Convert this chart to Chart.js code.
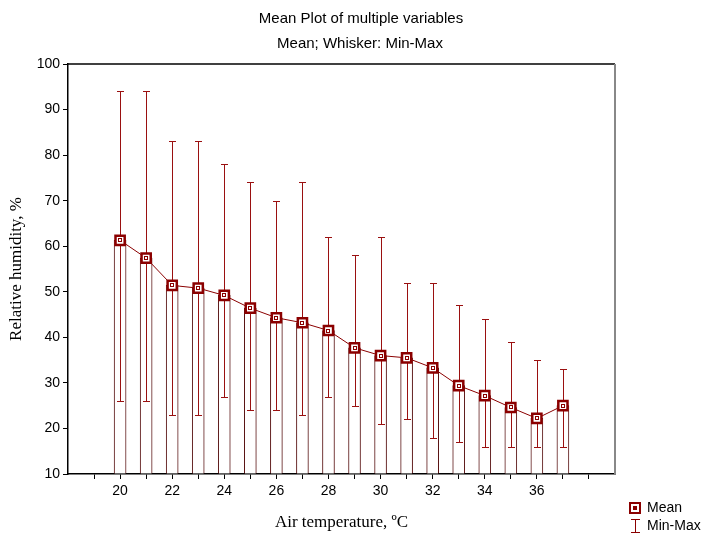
<!DOCTYPE html>
<html>
<head>
<meta charset="utf-8">
<script src="https://cdn.jsdelivr.net/npm/chart.js@4"></script>
<style>
  html, body { margin:0; padding:0; background:#fff; }
  #wrap { width:705px; height:533px; position:relative; }
</style>
</head>
<body>
<div id="wrap"><canvas id="c" width="705" height="533"></canvas></div>
<script>
// air temperature categories (ºC)
const temps = [20,21,22,23,24,25,26,27,28,29,30,31,32,33,34,35,36,37];
// relative humidity, %
const means = [61.3,57.4,51.4,50.8,49.2,46.4,44.3,43.2,41.5,37.7,36.0,35.5,33.3,29.4,27.2,24.6,22.2,25.0];
const maxs  = [94,94,83,83,78,74,70,74,62,58,62,52,52,47,44,39,35,33];
const mins  = [26,26,23,23,27,24,24,23,27,25,21,22,18,17,16,16,16,16];
const xLabels = [20,22,24,26,28,30,32,34,36];

const RED = "#8b0000";
const BAR_EDGE = "#5a1414";
const SANS = "'Liberation Sans', Arial, sans-serif";
const SERIF = "'Liberation Serif', 'Times New Roman', serif";

// whiskers, titles, frame and legend
const extras = {
  id: "extras",
  afterDatasetDraw(chart, args) {
    if (args.index !== 0) return;
    const { ctx, scales:{x, y}, chartArea } = chart;
    ctx.save();
    ctx.beginPath();
    ctx.rect(chartArea.left, chartArea.top, chartArea.width, chartArea.height);
    ctx.clip();
    ctx.strokeStyle = "#9a1010";
    ctx.lineWidth = 1;
    temps.forEach((t, i) => {
      const px = Math.round(x.getPixelForValue(t)) + 0.5;
      const top = Math.round(y.getPixelForValue(maxs[i])) + 0.5;
      const bot = Math.round(y.getPixelForValue(mins[i])) + 0.5;
      ctx.beginPath();
      ctx.moveTo(px, top); ctx.lineTo(px, bot);
      ctx.moveTo(px - 3.5, top); ctx.lineTo(px + 3.5, top);
      ctx.moveTo(px - 3.5, bot); ctx.lineTo(px + 3.5, bot);
      ctx.stroke();
    });
    ctx.restore();
  },
  afterDraw(chart) {
    const { ctx, chartArea:a, scales:{x, y} } = chart;
    ctx.save();
    // small inner squares in the markers
    ctx.strokeStyle = RED; ctx.lineWidth = 1;
    temps.forEach((t, i) => {
      const px = Math.round(x.getPixelForValue(t));
      const py = Math.round(y.getPixelForValue(means[i]));
      ctx.strokeRect(px - 1.5, py - 1.5, 3, 3);
    });
    // frame: top black, right gray
    ctx.strokeStyle = "#000"; ctx.lineWidth = 1.5;
    ctx.beginPath(); ctx.moveTo(a.left, a.top); ctx.lineTo(a.right, a.top); ctx.stroke();
    ctx.strokeStyle = "#888"; ctx.lineWidth = 2;
    ctx.beginPath(); ctx.moveTo(a.right, a.top); ctx.lineTo(a.right, a.bottom); ctx.stroke();

    // titles
    ctx.fillStyle = "#000";
    ctx.textAlign = "center";
    ctx.textBaseline = "middle";
    ctx.font = "15px " + SANS;
    ctx.fillText("Mean Plot of multiple variables", 361, 19);
    ctx.fillText("Mean; Whisker: Min-Max", 360, 44);

    // legend
    const lx = 630, ly1 = 508, ly2 = 526;
    ctx.strokeStyle = RED; ctx.lineWidth = 2;
    ctx.strokeRect(lx, ly1 - 5, 10, 10);
    ctx.fillStyle = RED;
    ctx.fillRect(lx + 3, ly1 - 2, 4, 4);
    ctx.lineWidth = 1;
    ctx.beginPath();
    ctx.moveTo(lx + 5.5, ly2 - 6); ctx.lineTo(lx + 5.5, ly2 + 6);
    ctx.moveTo(lx + 1, ly2 - 6.5); ctx.lineTo(lx + 10, ly2 - 6.5);
    ctx.moveTo(lx + 1, ly2 + 6.5); ctx.lineTo(lx + 10, ly2 + 6.5);
    ctx.stroke();
    ctx.fillStyle = "#000";
    ctx.textAlign = "left";
    ctx.font = "14px " + SANS;
    ctx.fillText("Mean", lx + 17, ly1);
    ctx.fillText("Min-Max", lx + 17, ly2);
    ctx.restore();
  }
};

new Chart(document.getElementById("c"), {
  type: "bar",
  data: {
    datasets: [
      {
        type: "bar",
        data: temps.map((t, i) => ({ x: t, y: means[i] })),
        base: 10,
        backgroundColor: "#fff",
        borderColor: BAR_EDGE,
        borderWidth: { left: 1, right: 1, top: 1, bottom: 0 },
        barThickness: 12,
        order: 2
      },
      {
        type: "line",
        data: temps.map((t, i) => ({ x: t, y: means[i] })),
        borderColor: RED,
        borderWidth: 1,
        pointStyle: "rect",
        pointRadius: 6.5,
        pointBackgroundColor: "#fff",
        pointBorderColor: RED,
        pointBorderWidth: 2.5,
        tension: 0,
        order: 1
      }
    ]
  },
  options: {
    responsive: false,
    animation: false,
    events: [],
    layout: { padding: { left: 0, right: 90, top: 64, bottom: 0 } },
    plugins: {
      legend: { display: false },
      tooltip: { enabled: false },
      title: { display: false }
    },
    scales: {
      x: {
        type: "linear",
        min: 18, max: 39,
        offset: false,
        afterFit: s => { s.height = 59; },
        afterBuildTicks: s => { s.ticks = []; for (let v = 19; v <= 38; v++) s.ticks.push({ value: v }); },
        ticks: {
          autoSkip: false,
          maxRotation: 0,
          color: "#000",
          padding: 4,
          font: { family: SANS, size: 14 },
          callback: v => xLabels.includes(v) ? String(v) : ""
        },
        grid: { drawOnChartArea: false, offset: false, tickLength: 5, color: "#000" },
        border: { color: "#000", width: 1.5 },
        title: {
          display: true,
          text: "Air temperature, ºC",
          color: "#000",
          font: { family: SERIF, size: 17 },
          padding: { top: 6, bottom: 0 }
        }
      },
      y: {
        min: 10, max: 100,
        afterFit: s => { s.width = 68; },
        ticks: {
          stepSize: 10,
          color: "#000",
          padding: 3,
          font: { family: SANS, size: 14 }
        },
        grid: { drawOnChartArea: false, tickLength: 5, color: "#000" },
        border: { color: "#000", width: 1.5 },
        title: {
          display: true,
          text: "Relative humidity, %",
          color: "#000",
          font: { family: SERIF, size: 17 },
          padding: { top: 6, bottom: 0 }
        }
      }
    }
  },
  plugins: [extras]
});
</script>
</body>
</html>
